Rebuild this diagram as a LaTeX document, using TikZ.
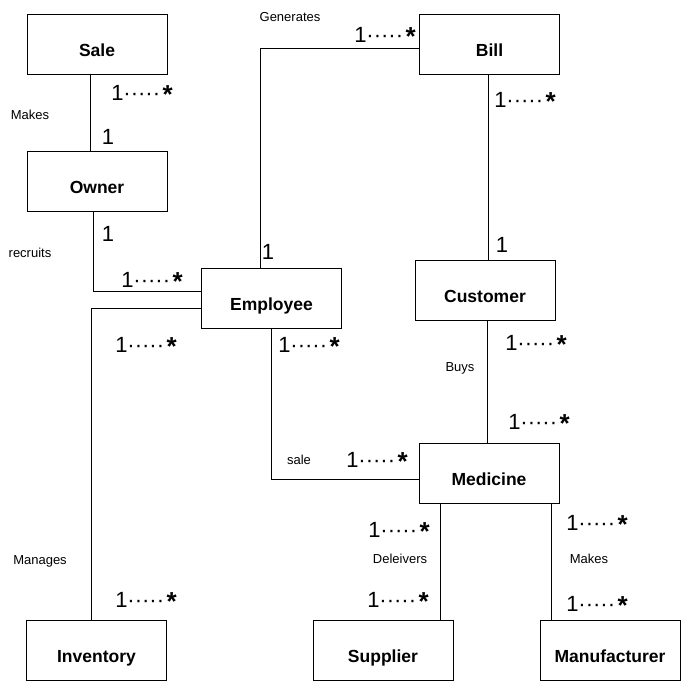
\documentclass[tikz,border=0pt]{standalone}
\usepackage{fontspec}
\setmainfont{Liberation Sans}
\newcommand{\mult}{1·····\kern2.5pt\raisebox{-0.1em}{\bfseries\fontsize{26}{28}\selectfont *}}

\begin{document}
\begin{tikzpicture}[
    x=1pt, y=-1pt,
    ent/.style={draw, line width=1pt, minimum width=140pt, minimum height=60pt, inner sep=0pt, font=\fontsize{17.5}{20}\selectfont\bfseries, text height=24pt, text depth=0pt},
    conn/.style={line width=1pt},
    lbl/.style={font=\fontsize{13}{15}\selectfont, inner sep=0pt, text height=9.3pt, text depth=0pt},
    mlt/.style={font=\fontsize{22}{24}\selectfont, inner sep=0pt, text height=15.8pt, text depth=0pt}
]
\useasboundingbox (0,0) rectangle (681,681);

\node[ent] (Sa) at (97,44) {Sale};
\node[ent] (Ow) at (97,181.5) {Owner};
\node[ent] (Bi) at (489.5,44) {Bill};
\node[ent] (Em) at (271.5,298) {Employee};
\node[ent] (Cu) at (485,290) {Customer};
\node[ent] (Me) at (489,473) {Medicine};
\node[ent] (In) at (96.5,650) {Inventory};
\node[ent] (Su) at (383,650) {Supplier};
\node[ent] (Ma) at (610,650) {Manufacturer};

\draw[conn] (Sa.south -| 90,0) -- (Ow.north -| 90,0);
\draw[conn] (Ow.south -| 93,0) |- (Em.west |- 0,291);
\draw[conn] (Em.west |- 0,308) -| (In.north -| 91,0);
\draw[conn] (Em.north -| 260,0) |- (Bi.west |- 0,48);
\draw[conn] (Bi.south -| 488,0) -- (Cu.north -| 488,0);
\draw[conn] (Cu.south -| 487,0) -- (Me.north -| 487,0);
\draw[conn] (Em.south -| 271,0) |- (Me.west |- 0,479);
\draw[conn] (Me.south -| 440,0) -- (Su.north -| 440,0);
\draw[conn] (Me.south -| 551,0) -- (Ma.north -| 551,0);

\node[lbl] (lMk) at (30,115) {Makes};
\node[mlt] (mSaOw) at (142,93) {\mult};
\node[mlt] (mOwSa) at (108,137) {1};

\node[lbl] (lRc) at (30,253) {recruits};
\node[mlt] (mOwEm) at (108,234) {1};
\node[mlt] (mEmOw) at (152,280) {\mult};

\node[lbl] (lMg) at (40,560) {Manages};
\node[mlt] (mEmIn) at (146,345) {\mult};
\node[mlt] (mInEm) at (146,600) {\mult};

\node[lbl] (lGn) at (290,17) {Generates};
\node[mlt] (mBiEm) at (385,35) {\mult};
\node[mlt] (mEmBi) at (268,252) {1};

\node[mlt] (mBiCu) at (525,100) {\mult};
\node[mlt] (mCuBi) at (502,245) {1};

\node[lbl] (lBy) at (460,367) {Buys};
\node[mlt] (mCuMe) at (536,343) {\mult};
\node[mlt] (mMeCu) at (539,422) {\mult};

\node[lbl] (lSl) at (299,460) {sale};
\node[mlt] (mEmMe) at (309,345) {\mult};
\node[mlt] (mMeEm) at (377,460) {\mult};

\node[lbl] (lDl) at (400,559) {Deleivers};
\node[mlt] (mMeSu) at (399,530) {\mult};
\node[mlt] (mSuMe) at (398,600) {\mult};

\node[lbl] (lMk2) at (589,559) {Makes};
\node[mlt] (mMeMa) at (597,523) {\mult};
\node[mlt] (mMaMe) at (597,604) {\mult};
\end{tikzpicture}
\end{document}
